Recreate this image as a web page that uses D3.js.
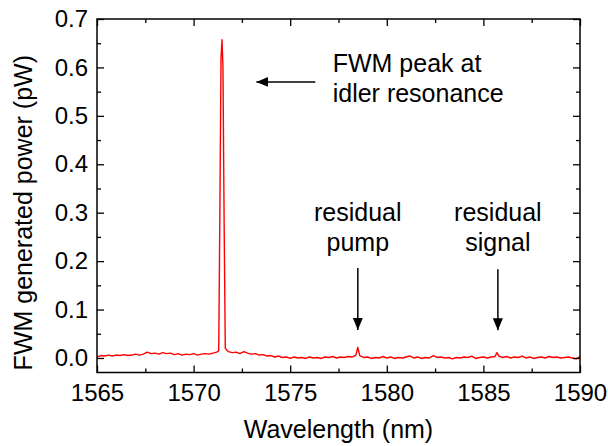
<!DOCTYPE html>
<html>
<head>
<meta charset="utf-8">
<script src="https://cdn.jsdelivr.net/npm/d3@7"></script>
<style>
  body { margin: 0; background: #fff; }
  text { font-family: "Liberation Sans", Arial, sans-serif; fill: #000; }
</style>
</head>
<body>
<div id="chart"></div>
<script>
// spectrum (nm, pW)
var wavelength = [
    1565.0, 1565.2, 1565.4, 1565.6, 1565.8, 1566.0, 1566.2, 1566.4, 1566.6, 1566.8,
    1567.0, 1567.2, 1567.4, 1567.6, 1567.8, 1568.0, 1568.2, 1568.4, 1568.6, 1568.8,
    1569.0, 1569.2, 1569.4, 1569.6, 1569.8, 1570.0, 1570.2, 1570.4, 1570.6, 1570.8,
    1571.0, 1571.2,
    1571.30, 1571.36, 1571.42, 1571.47, 1571.52, 1571.58, 1571.64,
    1571.8, 1572.0, 1572.2, 1572.4, 1572.6, 1572.8, 1573.0, 1573.2, 1573.4, 1573.6,
    1573.8, 1574.0, 1574.2, 1574.4, 1574.6, 1574.8, 1575.0, 1575.2, 1575.4, 1575.6,
    1575.8, 1576.0, 1576.2, 1576.4, 1576.6, 1576.8, 1577.0, 1577.2, 1577.4, 1577.6,
    1577.8, 1578.0, 1578.2, 1578.4, 1578.5, 1578.6, 1578.8, 1579.0, 1579.2, 1579.4,
    1579.6, 1579.8, 1580.0, 1580.2, 1580.4, 1580.6, 1580.8, 1581.0, 1581.2, 1581.4,
    1581.6, 1581.8, 1582.0, 1582.2, 1582.4, 1582.6, 1582.8, 1583.0, 1583.2, 1583.4,
    1583.6, 1583.8, 1584.0, 1584.2, 1584.4, 1584.6, 1584.8, 1585.0, 1585.2, 1585.4,
    1585.6, 1585.7, 1585.8, 1586.0, 1586.2, 1586.4, 1586.6, 1586.8, 1587.0, 1587.2,
    1587.4, 1587.6, 1587.8, 1588.0, 1588.2, 1588.4, 1588.6, 1588.8, 1589.0, 1589.2,
    1589.4, 1589.6, 1589.8, 1590.0
];
var power = [
    0.002, 0.005, 0.004, 0.006, 0.004, 0.006, 0.005, 0.007, 0.005, 0.006,
    0.008, 0.006, 0.008, 0.012, 0.009, 0.010, 0.008, 0.011, 0.009, 0.010,
    0.007, 0.009, 0.006, 0.008, 0.007, 0.009, 0.006, 0.008, 0.009, 0.008,
    0.010, 0.012,
    0.015, 0.300, 0.620, 0.657, 0.600, 0.280, 0.020,
    0.013, 0.011, 0.012, 0.009, 0.013, 0.010, 0.008, 0.009, 0.006, 0.007,
    0.004, 0.005, 0.002, 0.004, 0.001, 0.002, -0.001, 0.002, 0.000, 0.001,
    -0.001, 0.002, 0.000, 0.001, -0.001, 0.002, 0.001, 0.003, 0.000, 0.002,
    0.001, 0.003, 0.002, 0.006, 0.022, 0.005, 0.001, 0.002, -0.001, 0.001,
    0.000, 0.003, 0.000, 0.002, -0.001, 0.001, 0.000, 0.002, 0.004, 0.000,
    0.002, -0.001, 0.001, 0.000, 0.005, 0.001, 0.002, 0.000, 0.001, -0.002,
    0.001, 0.000, 0.002, 0.001, 0.004, -0.001, 0.001, 0.002, 0.000, 0.002,
    0.003, 0.011, 0.004, 0.001, 0.003, 0.000, 0.002, 0.001, 0.004, 0.000,
    0.002, -0.001, 0.001, 0.002, 0.000, 0.003, 0.001, 0.002, 0.000, 0.001,
    0.002, 0.000, -0.002, 0.003
];

var xTicks = [1565, 1570, 1575, 1580, 1585, 1590];
var xMinor = [1567.5, 1572.5, 1577.5, 1582.5, 1587.5];
var yTicks = [0.0, 0.1, 0.2, 0.3, 0.4, 0.5, 0.6, 0.7];
var yMinor = [0.05, 0.15, 0.25, 0.35, 0.45, 0.55, 0.65];

var margin = { top: 19, left: 97, bottom: 73.5, right: 28 },
    width = 608 - margin.left - margin.right,
    height = 446 - margin.top - margin.bottom;

var svg = d3.select('#chart').append('svg')
    .attr('width', 608)
    .attr('height', 446)
    .append('g')
    .attr('transform', 'translate(' + margin.left + ', ' + margin.top + ')');

var x = d3.scaleLinear().domain([1565, 1590]).range([0, width]);
var y = d3.scaleLinear().domain([-0.03, 0.7]).range([height, 0]);

var data = wavelength.map((w, i) => ({ w: w, p: power[i] }));

// spectrum
svg.append('path')
    .datum(data)
    .attr('fill', 'none')
    .attr('stroke', '#ff0000')
    .attr('stroke-width', 1.4)
    .attr('stroke-linejoin', 'round')
    .attr('d', d3.line().x(d => x(d.w)).y(d => y(d.p)));

// axes, ticks pointing inward on all four sides
function styleAxis(g) {
    g.select('.domain').remove();
    g.selectAll('line').attr('stroke', '#000').attr('stroke-width', 1.3);
    g.selectAll('text')
        .attr('font-size', null)
        .style('font-size', '24px')
        .style('font-family', '"Liberation Sans", Arial, sans-serif');
}

svg.append('g')
    .attr('transform', 'translate(0,' + height + ')')
    .call(d3.axisBottom(x).tickValues(xTicks).tickSize(-7).tickPadding(11).tickFormat(d3.format('d')))
    .call(styleAxis);
svg.append('g')
    .attr('transform', 'translate(0,' + height + ')')
    .call(d3.axisBottom(x).tickValues(xMinor).tickSize(-4).tickFormat(''))
    .call(styleAxis);
svg.append('g')
    .call(d3.axisTop(x).tickValues(xTicks).tickSize(-7).tickFormat(''))
    .call(styleAxis);
svg.append('g')
    .call(d3.axisTop(x).tickValues(xMinor).tickSize(-4).tickFormat(''))
    .call(styleAxis);

svg.append('g')
    .call(d3.axisLeft(y).tickValues(yTicks).tickSize(-7).tickPadding(9).tickFormat(d3.format('.1f')))
    .call(styleAxis);
svg.append('g')
    .call(d3.axisLeft(y).tickValues(yMinor).tickSize(-4).tickFormat(''))
    .call(styleAxis);
svg.append('g')
    .attr('transform', 'translate(' + width + ',0)')
    .call(d3.axisRight(y).tickValues(yTicks).tickSize(-7).tickFormat(''))
    .call(styleAxis);
svg.append('g')
    .attr('transform', 'translate(' + width + ',0)')
    .call(d3.axisRight(y).tickValues(yMinor).tickSize(-4).tickFormat(''))
    .call(styleAxis);

// frame
svg.append('rect')
    .attr('width', width)
    .attr('height', height)
    .attr('fill', 'none')
    .attr('stroke', '#000')
    .attr('stroke-width', 1.5);

// axis titles
svg.append('text')
    .attr('x', width / 2)
    .attr('y', height + 65.5)
    .attr('text-anchor', 'middle')
    .style('font-size', '25px')
    .text('Wavelength (nm)');

svg.append('text')
    .attr('transform', 'translate(' + (-65.5) + ',' + y(0.3) + ') rotate(-90)')
    .attr('text-anchor', 'middle')
    .style('font-size', '25px')
    .text('FWM generated power (pW)');

// annotations
svg.append('defs').append('marker')
    .attr('id', 'head')
    .attr('viewBox', '0 0 12 10')
    .attr('refX', 12)
    .attr('refY', 5)
    .attr('markerWidth', 12)
    .attr('markerHeight', 10)
    .attr('markerUnits', 'userSpaceOnUse')
    .attr('orient', 'auto')
    .append('path')
    .attr('d', 'M0,0L12,5L0,10Z')
    .attr('fill', '#000');

function arrow(x1, y1, x2, y2) {
    svg.append('line')
        .attr('x1', x(x1)).attr('y1', y(y1))
        .attr('x2', x(x2)).attr('y2', y(y2))
        .attr('stroke', '#000')
        .attr('stroke-width', 1.5)
        .attr('marker-end', 'url(#head)');
}

function label(lines, wx, py, anchor) {
    var t = svg.append('text')
        .attr('text-anchor', anchor)
        .style('font-size', '25px');
    lines.forEach((s, i) => {
        t.append('tspan')
            .attr('x', x(wx))
            .attr('y', y(py) + i * 30)
            .text(s);
    });
}

arrow(1576.3, 0.570, 1573.25, 0.570);
label(['FWM peak at', 'idler resonance'], 1577.2, 0.591, 'start');

arrow(1578.5, 0.186, 1578.5, 0.058);
label(['residual', 'pump'], 1578.5, 0.283, 'middle');

arrow(1585.75, 0.183, 1585.75, 0.057);
label(['residual', 'signal'], 1585.75, 0.283, 'middle');
</script>
</body>
</html>
